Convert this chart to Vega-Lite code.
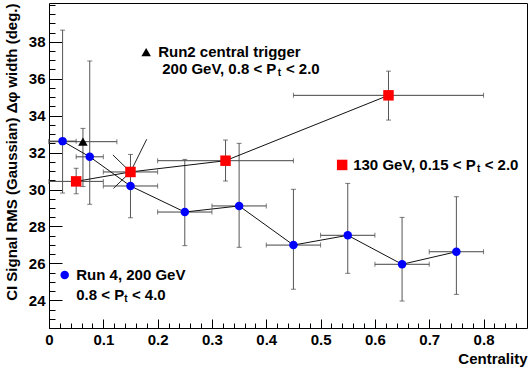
{
"$schema":"https://vega.github.io/schema/vega-lite/v6.json",
"width":478,"height":325,"autosize":"none",
"padding":{"left":49,"top":3,"right":4,"bottom":41},
"background":"#ffffff",
"config":{"view":{"stroke":"#000000","strokeWidth":1},"font":"Liberation Sans",
 "axis":{"grid":false,"domain":false,"labelFont":"Liberation Sans","labelFontWeight":"bold","labelFontSize":15,"labelColor":"#000000","titleFont":"Liberation Sans","titleFontWeight":"bold","titleFontSize":15,"titleColor":"#000000","tickColor":"#000000","labelOverlap":false,"labelFlush":false}},
"datasets":{
 "pts":[
  {"s":"run4","x":0.025,"y":32.62,"xlo":0,"xhi":0.05,"ylo":29.81,"yhi":38.63},
  {"s":"run4","x":0.075,"y":31.77,"xlo":0.05,"xhi":0.1,"ylo":29.2,"yhi":36.96},
  {"s":"run4","x":0.15,"y":30.19,"xlo":0.1,"xhi":0.2,"ylo":28.47,"yhi":31.9},
  {"s":"run4","x":0.25,"y":28.78,"xlo":0.2,"xhi":0.3,"ylo":26.96,"yhi":31.63},
  {"s":"run4","x":0.35,"y":29.11,"xlo":0.3,"xhi":0.4,"ylo":26.87,"yhi":32.5},
  {"s":"run4","x":0.45,"y":26.99,"xlo":0.4,"xhi":0.5,"ylo":24.6,"yhi":30.01},
  {"s":"run4","x":0.55,"y":27.52,"xlo":0.5,"xhi":0.6,"ylo":25.46,"yhi":30.33},
  {"s":"run4","x":0.65,"y":25.95,"xlo":0.6,"xhi":0.7,"ylo":23.96,"yhi":28.49},
  {"s":"run4","x":0.75,"y":26.63,"xlo":0.7,"xhi":0.8,"ylo":24.32,"yhi":29.61},
  {"s":"run2","x":0.0625,"y":32.59,"xlo":0,"xhi":0.125,"ylo":30.16,"yhi":33.31},
  {"s":"130","x":0.05,"y":30.44,"xlo":0,"xhi":0.1,"ylo":29.77,"yhi":31.15},
  {"s":"130","x":0.15,"y":30.95,"xlo":0.1,"xhi":0.2,"ylo":null,"yhi":null},
  {"s":"130","x":0.325,"y":31.56,"xlo":0.2,"xhi":0.45,"ylo":30.46,"yhi":32.68},
  {"s":"130","x":0.625,"y":35.1,"xlo":0.45,"xhi":0.8,"ylo":33.76,"yhi":36.41}
 ],
 "seg":[
  {"x":0.1176,"y":31.87,"x2":0.15,"y2":30.95},
  {"x":0.15,"y":30.95,"x2":0.1799,"y2":32.72},
  {"x":0.15,"y":30.95,"x2":0.1187,"y2":30.06}
 ],
 "leg":[
  {"s":"run2","x":0.1789,"y":37.44},
  {"s":"130","x":0.5397,"y":31.33},
  {"s":"run4","x":0.0289,"y":25.37}
 ],
 "txt":[
  {"x":0.201,"y":37.44,"t":"Run2 central trigger","k":"m"},
  {"x":0.2084,"y":36.52,"t":"200 GeV, 0.8 < P","k":"m"},
  {"x":0.421,"y":36.3,"t":"t","k":"s"},
  {"x":0.4361,"y":36.52,"t":"< 2.0","k":"m"},
  {"x":0.56,"y":31.33,"t":"130 GeV, 0.15 < P","k":"m"},
  {"x":0.7879,"y":31.11,"t":"t","k":"s"},
  {"x":0.8021,"y":31.33,"t":"< 2.0","k":"m"},
  {"x":0.0501,"y":25.37,"t":"Run 4, 200 GeV","k":"m"},
  {"x":0.0501,"y":24.29,"t":"0.8 < P","k":"m"},
  {"x":0.1384,"y":24.07,"t":"t","k":"s"},
  {"x":0.1526,"y":24.29,"t":"< 4.0","k":"m"}
 ]
},
"resolve":{"axis":{"x":"independent","y":"independent"}},
"layer":[
 {"data":{"name":"pts"},"mark":{"type":"point","opacity":0},
  "encoding":{
   "x":{"field":"x","type":"quantitative","scale":{"domain":[0,0.88],"nice":false,"zero":false},
        "axis":{"orient":"bottom","values":[0,0.1,0.2,0.3,0.4,0.5,0.6,0.7,0.8],"format":".1~f","ticks":false,"labelPadding":4,"title":"Centrality","titleAnchor":"end","titlePadding":4}},
   "y":{"field":"y","type":"quantitative","scale":{"domain":[22.5,40.1],"nice":false,"zero":false},
        "axis":{"orient":"left","values":[24,26,28,30,32,34,36,38],"ticks":false,"labelPadding":4,"title":"CI Signal RMS (Gaussian) Δφ width (deg.)","titleAnchor":"end","titlePadding":9}}}},
 {"data":{"name":"pts"},"mark":{"type":"point","opacity":0},
  "encoding":{
   "x":{"field":"x","type":"quantitative","axis":{"orient":"bottom","values":[0,0.1,0.2,0.3,0.4,0.5,0.6,0.7,0.8],"labels":false,"tickSize":-9,"title":null}},
   "y":{"field":"y","type":"quantitative","axis":{"orient":"left","values":[24,26,28,30,32,34,36,38],"labels":false,"tickSize":-13,"title":null}}}},
 {"data":{"name":"pts"},"mark":{"type":"point","opacity":0},
  "encoding":{
   "x":{"field":"x","type":"quantitative","axis":{"orient":"bottom","values":[0.02,0.04,0.06,0.08,0.12,0.14,0.16,0.18,0.22,0.24,0.26,0.28,0.32,0.34,0.36,0.38,0.42,0.44,0.46,0.48,0.52,0.54,0.56,0.58,0.62,0.64,0.66,0.68,0.72,0.74,0.76,0.78,0.82,0.84,0.86],"labels":false,"tickSize":-5,"title":null}},
   "y":{"field":"y","type":"quantitative","axis":{"orient":"left","values":[22.5,23,23.5,24.5,25,25.5,26.5,27,27.5,28.5,29,29.5,30.5,31,31.5,32.5,33,33.5,34.5,35,35.5,36.5,37,37.5,38.5,39,39.5,40],"labels":false,"tickSize":-6,"title":null}}}},
 {"data":{"name":"pts"},"mark":{"type":"rule","color":"#444444","strokeWidth":1},
  "encoding":{"x":{"field":"xlo","type":"quantitative","axis":null},"x2":{"field":"xhi"},"y":{"field":"y","type":"quantitative","axis":null}}},
 {"data":{"name":"pts"},"transform":[{"filter":"isValid(datum.ylo)"}],"mark":{"type":"rule","color":"#555555","strokeWidth":1},
  "encoding":{"x":{"field":"x","type":"quantitative","axis":null},"y":{"field":"ylo","type":"quantitative","axis":null},"y2":{"field":"yhi"}}},
 {"data":{"name":"pts"},"mark":{"type":"tick","orient":"vertical","size":5,"thickness":1,"color":"#444444"},
  "encoding":{"x":{"field":"xlo","type":"quantitative","axis":null},"y":{"field":"y","type":"quantitative","axis":null}}},
 {"data":{"name":"pts"},"mark":{"type":"tick","orient":"vertical","size":5,"thickness":1,"color":"#444444"},
  "encoding":{"x":{"field":"xhi","type":"quantitative","axis":null},"y":{"field":"y","type":"quantitative","axis":null}}},
 {"data":{"name":"pts"},"transform":[{"filter":"isValid(datum.ylo)"}],"mark":{"type":"tick","orient":"horizontal","size":5,"thickness":1,"color":"#444444"},
  "encoding":{"x":{"field":"x","type":"quantitative","axis":null},"y":{"field":"ylo","type":"quantitative","axis":null}}},
 {"data":{"name":"pts"},"transform":[{"filter":"isValid(datum.yhi)"}],"mark":{"type":"tick","orient":"horizontal","size":5,"thickness":1,"color":"#444444"},
  "encoding":{"x":{"field":"x","type":"quantitative","axis":null},"y":{"field":"yhi","type":"quantitative","axis":null}}},
 {"data":{"name":"seg"},"mark":{"type":"rule","color":"#222222","strokeWidth":1},
  "encoding":{"x":{"field":"x","type":"quantitative","axis":null},"y":{"field":"y","type":"quantitative","axis":null},"x2":{"field":"x2"},"y2":{"field":"y2"}}},
 {"data":{"name":"pts"},"transform":[{"filter":"datum.s !== 'run2'"}],"mark":{"type":"line","color":"#111111","strokeWidth":1},
  "encoding":{"x":{"field":"x","type":"quantitative","axis":null},"y":{"field":"y","type":"quantitative","axis":null},"detail":{"field":"s"},"order":{"field":"x"}}},
 {"data":{"name":"pts"},"mark":{"type":"point","filled":true,"opacity":1},
  "encoding":{"x":{"field":"x","type":"quantitative","axis":null},"y":{"field":"y","type":"quantitative","axis":null},
   "color":{"field":"s","type":"nominal","scale":{"domain":["run4","run2","130"],"range":["#0000ff","#000000","#ff0000"]},"legend":null},
   "shape":{"field":"s","type":"nominal","scale":{"domain":["run4","run2","130"],"range":["circle","triangle-up","square"]},"legend":null},
   "size":{"field":"s","type":"nominal","scale":{"domain":["run4","run2","130"],"range":[72,110,95]},"legend":null}}},
 {"data":{"name":"leg"},"mark":{"type":"point","filled":true,"opacity":1},
  "encoding":{"x":{"field":"x","type":"quantitative","axis":null},"y":{"field":"y","type":"quantitative","axis":null},
   "color":{"field":"s","type":"nominal","legend":null},
   "shape":{"field":"s","type":"nominal","legend":null},
   "size":{"field":"s","type":"nominal","legend":null}}},
 {"data":{"name":"txt"},"transform":[{"filter":"datum.k === 'm'"}],"mark":{"type":"text","align":"left","baseline":"middle","font":"Liberation Sans","fontWeight":"bold","fontSize":15,"color":"#000000"},
  "encoding":{"x":{"field":"x","type":"quantitative","axis":null},"y":{"field":"y","type":"quantitative","axis":null},"text":{"field":"t"}}},
 {"data":{"name":"txt"},"transform":[{"filter":"datum.k === 's'"}],"mark":{"type":"text","align":"left","baseline":"middle","font":"Liberation Sans","fontWeight":"bold","fontSize":10,"color":"#000000"},
  "encoding":{"x":{"field":"x","type":"quantitative","axis":null},"y":{"field":"y","type":"quantitative","axis":null},"text":{"field":"t"}}}
]
}
